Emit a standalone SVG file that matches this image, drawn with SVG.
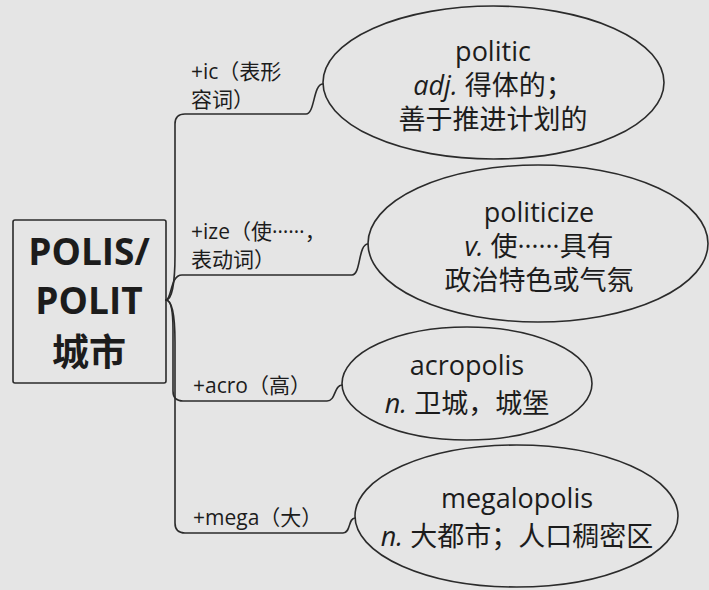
<svg xmlns="http://www.w3.org/2000/svg" width="709" height="590" viewBox="0 0 709 590">
<style>
.bg{fill:#e5e5e5}
.node{fill:none;stroke:#2b2b2b;stroke-width:1.6}
.conn{fill:none;stroke:#2b2b2b;stroke-width:1.6;stroke-linecap:round}
text{font-family:"Open Sans","Noto Sans CJK SC",sans-serif;fill:#1c1c1c}
.root{font-size:37px;font-weight:bold;text-anchor:middle}
.lbl{font-size:21px}
.def{font-size:27px;text-anchor:middle}
.it{font-style:italic}
</style>
<rect class="bg" x="0" y="0" width="709" height="590"/>
<g id="connectors">
<path class="conn" d="M166,300 C172,300 175,282 175,255 V124 Q175,114 185,114 H306 C315,114 313,84 323,84"/>
<path class="conn" d="M166,300 C172,299 170,275 182,275 H352 C361,275 358,244 368,244"/>
<path class="conn" d="M166,300 C171,300 173,312 173,330 V391 Q173,401 183,401 H327 C336,401 334,385 342,385"/>
<path class="conn" d="M166,300 C172,300 175,318 175,342 V523 Q175,533 185,533 H343 C351,533 348,518 355,518"/>
</g>
<g id="node-root">
<rect class="node" x="13" y="220" width="153" height="163" rx="2"/>
<text class="root" x="89" y="265">POLIS/</text>
<text class="root" x="89" y="314">POLIT</text>
<text class="root" x="89" y="366">城市</text>
</g>
<g id="label-ic">
<text class="lbl" x="191" y="79">+ic（表形</text>
<text class="lbl" x="191" y="107">容词）</text>
</g>
<g id="label-ize">
<text class="lbl" x="191" y="239">+ize（使<tspan dy="-6">……</tspan><tspan dy="6">，</tspan></text>
<text class="lbl" x="191" y="267">表动词）</text>
</g>
<g id="label-acro">
<text class="lbl" x="193" y="393">+acro（高）</text>
</g>
<g id="label-mega">
<text class="lbl" x="193" y="525">+mega（大）</text>
</g>
<g id="node-politic">
<ellipse class="node" cx="493.5" cy="82.5" rx="170.5" ry="76.5"/>
<text class="def" x="493" y="61">politic</text>
<text class="def" x="493" y="95"><tspan class="it">adj.</tspan> 得体的；</text>
<text class="def" x="493" y="129">善于推进计划的</text>
</g>
<g id="node-politicize">
<ellipse class="node" cx="538" cy="243.5" rx="170" ry="78.5"/>
<text class="def" x="539" y="222">politicize</text>
<text class="def" x="539" y="256"><tspan class="it">v.</tspan> 使<tspan dy="-8">……</tspan><tspan dy="8">具有</tspan></text>
<text class="def" x="539" y="290">政治特色或气氛</text>
</g>
<g id="node-acropolis">
<ellipse class="node" cx="467" cy="383.5" rx="125" ry="56.5"/>
<text class="def" x="467" y="375">acropolis</text>
<text class="def" x="467" y="413"><tspan class="it">n.</tspan> 卫城，城堡</text>
</g>
<g id="node-megalopolis">
<ellipse class="node" cx="516.5" cy="516" rx="161.5" ry="71"/>
<text class="def" x="517" y="508">megalopolis</text>
<text class="def" x="517" y="546"><tspan class="it">n.</tspan> 大都市；人口稠密区</text>
</g>
</svg>
